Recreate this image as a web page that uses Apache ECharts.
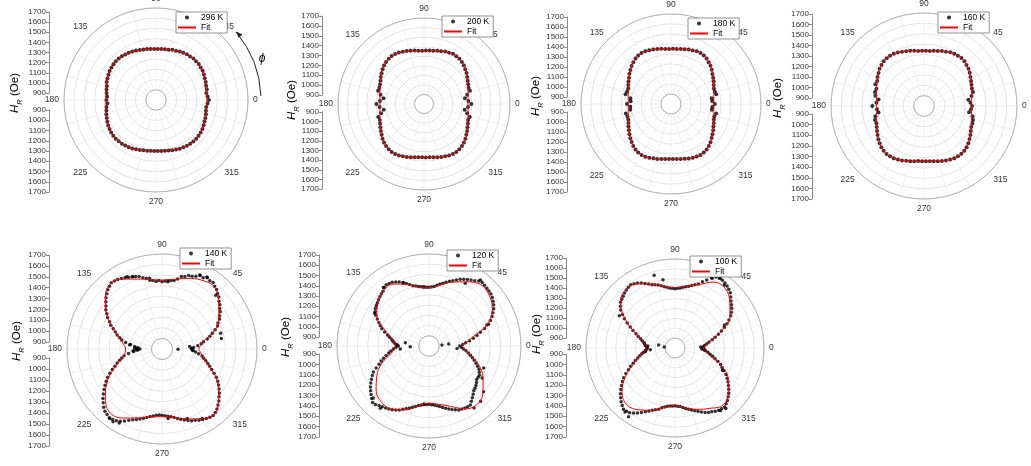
<!DOCTYPE html>
<html>
<head>
<meta charset="utf-8">
<script src="https://cdn.jsdelivr.net/npm/echarts@6.0.0/dist/echarts.min.js"></script>
<style>
  html, body { margin: 0; padding: 0; background: #fff; }
  #main { width: 1031px; height: 466px; }
</style>
</head>
<body>
<div id="main"></div>
<script>
var FONT = '"Liberation Sans", Arial, sans-serif';

// angles (deg)
var angles4 = [0,4,8,12,16,20,24,28,32,36,40,44,48,52,56,60,64,68,72,76,80,84,88,
  92,96,100,104,108,112,116,120,124,128,132,136,140,144,148,152,156,160,164,168,172,176,
  180,184,188,192,196,200,204,208,212,216,220,224,228,232,236,240,244,248,252,256,260,264,268,
  272,276,280,284,288,292,296,300,304,308,312,316,320,324,328,332,336,340,344,348,352,356];
var angles5 = [0,5,10,15,20,25,30,35,40,45,50,55,60,65,70,75,80,85,90,95,
  100,105,110,115,120,125,130,135,140,145,150,155,160,165,170,175,180,185,190,195,
  200,205,210,215,220,225,230,235,240,245,250,255,260,265,270,275,280,285,290,295,
  300,305,310,315,320,325,330,335,340,345,350,355];
var angles5b = [2.5,7.5,12.5,17.5,22.5,27.5,32.5,37.5,42.5,47.5,52.5,57.5,62.5,67.5,72.5,77.5,82.5,87.5,92.5,97.5,
  102.5,107.5,112.5,117.5,122.5,127.5,132.5,137.5,142.5,147.5,152.5,157.5,162.5,167.5,172.5,177.5,182.5,187.5,192.5,197.5,
  202.5,207.5,212.5,217.5,222.5,227.5,232.5,237.5,242.5,247.5,252.5,257.5,262.5,267.5,272.5,277.5,282.5,287.5,292.5,297.5,
  302.5,307.5,312.5,317.5,322.5,327.5,332.5,337.5,342.5,347.5,352.5,357.5];
var fitAngles = [0,10,20,30,40,50,60,70,80,90,100,110,120,130,140,150,160,170,180,
  190,200,210,220,230,240,250,260,270,280,290,300,310,320,330,340,350,360];

// measured H_R (Oe)
var hr296 = [1318,1306,1297,1308,1310,1318,1322,1331,1338,1340,1346,1344,1347,1341,1340,1333,1329,1320,1316,1306,1305,1301,1299,
  1300,1302,1306,1309,1314,1322,1328,1335,1338,1343,1345,1346,1343,1339,1335,1327,1320,1314,1300,1295,1288,1280,
  1285,1276,1290,1296,1305,1313,1322,1330,1336,1342,1345,1347,1344,1342,1338,1333,1328,1320,1314,1307,1303,1300,1299,
  1300,1302,1305,1310,1316,1323,1330,1335,1340,1344,1346,1347,1343,1340,1335,1328,1320,1314,1308,1300,1296,1305];
var hr200 = [1295,1265,1232,1262,1300,1296,1306,1318,1333,1350,1364,1380,1392,1402,1404,1407,1398,1392,1381,1374,1367,1362,1360,
  1358,1361,1368,1375,1383,1390,1400,1404,1406,1400,1393,1381,1366,1349,1333,1316,1304,1296,1300,1265,1228,1262,
  1298,1266,1226,1260,1298,1292,1303,1317,1332,1348,1366,1381,1393,1401,1405,1404,1399,1390,1382,1373,1366,1360,1358,
  1359,1361,1367,1374,1382,1391,1399,1405,1405,1401,1393,1380,1365,1348,1332,1316,1303,1290,1298,1262,1230,1262];
var hr180 = [1238,1214,1212,1263,1255,1256,1268,1282,1297,1312,1332,1349,1363,1378,1386,1390,1386,1378,1373,1364,1359,1352,1353,
  1350,1354,1360,1366,1373,1380,1386,1389,1386,1376,1363,1348,1330,1314,1295,1281,1268,1255,1257,1265,1210,1205,
  1240,1208,1212,1262,1252,1255,1266,1281,1296,1314,1331,1347,1364,1376,1386,1388,1386,1379,1371,1366,1358,1354,1350,
  1351,1353,1358,1365,1372,1379,1385,1389,1385,1378,1364,1349,1330,1313,1297,1280,1268,1256,1250,1262,1213,1215];
var hr160 = [1265,1251,1234,1270,1293,1293,1303,1316,1330,1347,1362,1372,1384,1388,1386,1385,1378,1366,1360,1349,1343,1336,1335,
  1334,1336,1343,1351,1358,1367,1377,1385,1388,1386,1383,1372,1361,1344,1330,1313,1315,1290,1293,1280,1244,1262,
  1300,1256,1244,1280,1293,1290,1301,1315,1330,1346,1360,1374,1383,1388,1387,1384,1376,1369,1358,1351,1342,1336,1334,
  1335,1337,1342,1350,1359,1368,1377,1384,1387,1387,1382,1373,1360,1344,1330,1313,1300,1298,1293,1280,1240,1256];

var hr140 = [1085,1140,1200,1270,1335,1385,1430,1468,1505,1545,
  1575,1590,1580,1560,1540,1510,1460,1440,1438,1442,
  1462,1500,1530,1550,1570,1585,1575,1540,1495,1450,
  1395,1335,1270,1215,1150,1060,1010,1070,1165,1215,
  1275,1345,1410,1470,1530,1580,1610,1615,1590,1545,
  1510,1480,1450,1430,1428,1440,1458,1490,1520,1545,
  1570,1590,1585,1550,1505,1460,1410,1345,1280,1230,
  1185,1120];
var hr140b = [1100,1175,1240,1300,1370,1415,1455,1490,1530,1565,
  1595,1600,1585,1545,1520,1480,1455,1445,1450,1455,
  1485,1520,1540,1560,1580,1590,1560,1520,1470,1420,
  1360,1300,1245,1190,1110,1040,1030,1120,1190,1245,
  1310,1380,1440,1500,1555,1600,1620,1605,1570,1525,
  1495,1465,1440,1425,1432,1448,1475,1505,1535,1560,
  1580,1595,1570,1530,1485,1435,1380,1310,1255,1205,
  1150,1090];
var hr120 = [1100,1160,1240,1320,1420,1480,1530,1565,1590,1600,
  1610,1580,1550,1520,1480,1445,1415,1385,1375,1380,
  1390,1410,1450,1490,1520,1530,1500,1480,1460,1440,
  1400,1340,1290,1220,1170,1140,1100,1150,1200,1260,
  1320,1400,1450,1500,1540,1580,1560,1540,1520,1490,
  1450,1420,1390,1375,1370,1380,1400,1430,1460,1490,
  1500,1505,1460,1420,1400,1370,1370,1340,1290,1240,
  1190,1140];
var hr120b = [1130,1200,1280,1370,1450,1505,1550,1580,1595,1605,
  1600,1565,1535,1500,1465,1430,1400,1378,1376,1385,
  1400,1430,1470,1505,1525,1520,1490,1470,1450,1425,
  1370,1315,1255,1195,1155,1120,1125,1175,1230,1290,
  1360,1425,1475,1520,1560,1575,1550,1530,1505,1470,
  1435,1405,1382,1372,1375,1390,1415,1445,1475,1495,
  1505,1480,1440,1410,1385,1370,1355,1315,1265,1215,
  1165,1120];
var hr100 = [1080,1100,1150,1220,1300,1380,1450,1500,1540,1590,
  1620,1635,1630,1560,1490,1455,1430,1410,1400,1410,
  1430,1460,1480,1520,1560,1580,1565,1540,1520,1470,
  1390,1300,1220,1160,1120,1100,1080,1100,1140,1190,
  1250,1320,1400,1460,1520,1570,1610,1600,1560,1510,
  1470,1440,1405,1390,1385,1395,1420,1450,1480,1520,
  1545,1570,1580,1550,1510,1460,1410,1345,1290,1220,
  1160,1110];
var hr100b = [1085,1125,1185,1260,1340,1415,1475,1520,1565,1605,
  1630,1635,1600,1525,1470,1440,1420,1405,1405,1420,
  1445,1470,1500,1540,1570,1575,1555,1530,1495,1430,
  1345,1260,1190,1140,1110,1090,1090,1120,1165,1220,
  1285,1360,1430,1490,1545,1590,1605,1580,1535,1490,
  1455,1420,1395,1387,1390,1408,1435,1465,1500,1535,
  1558,1575,1565,1530,1485,1435,1380,1315,1255,1190,
  1135,1095];

// extra scattered points [H_R, angle]
var extra140 = [[1078,1],[1063,5],[1094,357],[952,359],[1100,172],[1059,179],[1043,182],[1027,177],[1075,184],
  [1371,10],[1375,15],[1538,112],[1561,116],[1630,236],[1610,240],[1623,233],[1586,63],[1603,58],
  [1520,45],[1480,100],[1450,85],[1560,300],[1500,290],[1460,275]];
var extra120 = [[927,4],[994,6],[1075,355],[1034,172],[983,182],[1082,186],[1113,178],[1420,149],[1618,52],
  [1545,223],[1573,232],[1403,20],[1377,338],[1407,329],[1497,320],[1540,313],[1550,306],
  [1510,60],[1470,112],[1525,128],[1380,95],[1370,265]];
var extra100 = [[1060,2],[1070,358],[1095,356],[968,170],[910,175],[1050,184],[1075,176],[1100,187],
  [1566,106],[1500,100],[1610,52],[1640,57],[1600,62],[1450,150],[1620,232],[1640,236],
  [1580,306],[1600,310],[1350,25],[1330,335]];

// fits
var fit296 = [1297,1301,1315,1333,1344,1345,1334,1316,1303,1298,1302,1315,1333,1344,1345,1333,1315,1298,1288,
  1298,1315,1333,1344,1345,1334,1316,1303,1298,1302,1315,1333,1344,1345,1333,1315,1301,1297];
var fit200 = [1261,1268,1289,1323,1365,1399,1405,1386,1366,1358,1366,1386,1405,1399,1365,1323,1289,1268,1261,
  1268,1289,1323,1365,1399,1405,1386,1366,1358,1366,1386,1405,1399,1365,1323,1289,1268,1261];
var fit180 = [1228,1235,1254,1288,1331,1372,1388,1376,1358,1350,1358,1376,1388,1372,1331,1288,1254,1235,1228,
  1235,1254,1288,1331,1372,1388,1376,1358,1350,1358,1376,1388,1372,1331,1288,1254,1235,1228];
var fit160 = [1260,1267,1288,1321,1360,1386,1384,1363,1342,1334,1342,1363,1384,1386,1360,1321,1288,1267,1260,
  1267,1288,1321,1360,1386,1384,1363,1342,1334,1342,1363,1384,1386,1360,1321,1288,1267,1260];
var fit140 = [1148,1195,1340,1422,1500,1570,1553,1512,1470,1453,1470,1505,1565,1585,1500,1395,1270,1185,1145,
  1168,1265,1395,1500,1577,1555,1495,1455,1441,1460,1505,1560,1590,1501,1405,1270,1190,1148];
var fit120 = [1123,1215,1400,1515,1570,1585,1525,1465,1405,1370,1385,1440,1500,1500,1450,1390,1260,1160,1130,
  1170,1290,1390,1475,1520,1515,1465,1395,1360,1380,1430,1510,1540,1490,1410,1310,1185,1123];
var fit100 = [1085,1155,1300,1443,1523,1588,1570,1480,1435,1410,1430,1490,1550,1572,1522,1380,1220,1120,1090,
  1140,1240,1380,1500,1553,1522,1470,1410,1383,1415,1460,1505,1555,1505,1420,1290,1135,1085];

// panel layout
var panels = [
  {name: '296 K', sets: [[angles4, hr296]], extra: [], fit: fit296, ss: 4,
   cx: 156, cy: 100, r: 92, ax: 49, ya: [12, 93, 110, 192], lg: [176, 12], lab: [15, 93]},
  {name: '200 K', sets: [[angles4, hr200]], extra: [], fit: fit200, ss: 4,
   cx: 424, cy: 104, r: 86, ax: 322, ya: [16, 95, 112, 189], lg: [442, 16], lab: [292, 100]},
  {name: '180 K', sets: [[angles4, hr180]], extra: [], fit: fit180, ss: 4,
   cx: 671, cy: 104, r: 90, ax: 567, ya: [17, 97, 112, 192], lg: [688, 18], lab: [536, 96]},
  {name: '160 K', sets: [[angles4, hr160]], extra: [], fit: fit160, ss: 4,
   cx: 924, cy: 106, r: 93, ax: 812, ya: [14, 98, 114, 199], lg: [938, 12], lab: [778, 98]},
  {name: '140 K', sets: [[angles5, hr140], [angles5b, hr140b]], extra: extra140, fit: fit140, ss: 3.5,
   cx: 162, cy: 349, r: 95, ax: 49, ya: [255, 342, 358, 446], lg: [180, 248], lab: [17, 341]},
  {name: '120 K', sets: [[angles5, hr120], [angles5b, hr120b]], extra: extra120, fit: fit120, ss: 3.5,
   cx: 429, cy: 346, r: 92, ax: 319, ya: [255, 337, 354, 437], lg: [447, 250], lab: [286, 337]},
  {name: '100 K', sets: [[angles5, hr100], [angles5b, hr100b]], extra: extra100, fit: fit100, ss: 3.5,
   cx: 675, cy: 348, r: 89, ax: 566, ya: [258, 338, 354, 437], lg: [690, 256], lab: [537, 334]}
];

var option = {
  animation: false,
  backgroundColor: '#fff',
  polar: [], angleAxis: [], radiusAxis: [],
  grid: [], xAxis: [], yAxis: [],
  legend: [], series: [], graphic: []
};

function yAxisCfg(gi, inverse) {
  return {
    gridIndex: gi, type: 'value', min: 900, max: 1700, interval: 100, inverse: inverse,
    position: 'left',
    axisLine: {show: true, lineStyle: {color: '#8a8a8a', width: 1}},
    axisTick: {show: true, length: 3, lineStyle: {color: '#8a8a8a'}},
    axisLabel: {fontSize: 8, color: '#333', margin: 3, fontFamily: FONT,
      formatter: function (v) { return String(v); }},
    splitLine: {show: false}
  };
}

panels.forEach(function (p, i) {
  option.polar.push({center: [p.cx, p.cy], radius: [p.r / 9, p.r]});
  option.angleAxis.push({
    polarIndex: i, type: 'value', min: 0, max: 360, interval: 15,
    startAngle: 0, clockwise: false,
    axisLine: {lineStyle: {color: '#b5b5b5', width: 1}},
    axisTick: {show: false},
    axisLabel: {
      margin: 5, fontSize: 8.5, color: '#333', fontFamily: FONT,
      formatter: function (v) { return (v % 45 === 0 && v < 360) ? String(v) : ''; }
    },
    splitLine: {show: true, lineStyle: {color: '#ececec', width: 0.8}}
  });
  option.radiusAxis.push({
    polarIndex: i, type: 'value', min: 900, max: 1700, interval: 100,
    axisLine: {show: false}, axisTick: {show: false}, axisLabel: {show: false},
    splitLine: {show: true, lineStyle: {color: '#dcdcdc', width: 0.8}}
  });

  // left H_R scale (two halves)
  option.grid.push({left: p.ax, top: p.ya[0], width: 10, height: p.ya[1] - p.ya[0]});
  option.grid.push({left: p.ax, top: p.ya[2], width: 10, height: p.ya[3] - p.ya[2]});
  option.xAxis.push({gridIndex: 2 * i, type: 'value', show: false});
  option.xAxis.push({gridIndex: 2 * i + 1, type: 'value', show: false});
  option.yAxis.push(yAxisCfg(2 * i, false));
  option.yAxis.push(yAxisCfg(2 * i + 1, true));

  option.legend.push({
    left: p.lg[0], top: p.lg[1], orient: 'vertical',
    itemWidth: 18, itemHeight: 4, itemGap: 1,
    padding: [1, 4, 1, 1],
    borderColor: '#666', borderWidth: 0.7, backgroundColor: '#fff',
    selectedMode: false,
    textStyle: {fontSize: 8.5, color: '#000', fontFamily: FONT},
    data: [p.name, {name: 'Fit', itemStyle: {color: 'rgba(0,0,0,0)', borderWidth: 0}}]
  });

  var pts = [];
  p.sets.forEach(function (s) {
    s[0].forEach(function (a, k) { pts.push([s[1][k], a]); });
  });
  pts = pts.concat(p.extra);
  var fitPts = fitAngles.map(function (a, k) { return [p.fit[k], a]; });

  option.series.push({
    type: 'scatter', name: p.name, coordinateSystem: 'polar', polarIndex: i,
    symbol: 'circle', symbolSize: p.ss,
    itemStyle: {color: '#000'},
    data: pts, z: 2
  });
  option.series.push({
    type: 'line', name: 'Fit', coordinateSystem: 'polar', polarIndex: i,
    symbol: 'none', smooth: 0.4,
    lineStyle: {color: '#ff0000', width: 1},
    itemStyle: {color: '#ff0000'},
    data: fitPts, z: 3
  });

  option.graphic.push({
    type: 'text', x: p.lab[0], y: p.lab[1], rotation: Math.PI / 2,
    style: {
      text: '{h|H}{s|R}{t| (Oe)}',
      align: 'center', verticalAlign: 'middle', fill: '#000',
      rich: {
        h: {fontSize: 11.5, fontStyle: 'italic', fontFamily: FONT, lineHeight: 18, verticalAlign: 'middle'},
        s: {fontSize: 7.5, fontStyle: 'italic', fontFamily: FONT, lineHeight: 8, verticalAlign: 'bottom'},
        t: {fontSize: 11.5, fontFamily: FONT, lineHeight: 18, verticalAlign: 'middle'}
      }
    }
  });
});

// rotation arrow and phi in the first panel
option.graphic.push({
  type: 'arc',
  shape: {cx: 156, cy: 100, r: 105, startAngle: -40.4 * Math.PI / 180, endAngle: -2.2 * Math.PI / 180},
  style: {stroke: '#222', lineWidth: 1, fill: null}
});
option.graphic.push({
  type: 'polygon',
  shape: {points: [[236.4, 31.6], [242.4, 34.5], [238.6, 37.8]]},
  style: {fill: '#222'}
});
option.graphic.push({
  type: 'text', x: 262, y: 59,
  style: {text: 'ϕ', fontSize: 12, fontStyle: 'italic', fontFamily: FONT, fill: '#000', align: 'center', verticalAlign: 'middle'}
});

var myChart = echarts.init(document.getElementById('main'));
myChart.setOption(option);
</script>
</body>
</html>
